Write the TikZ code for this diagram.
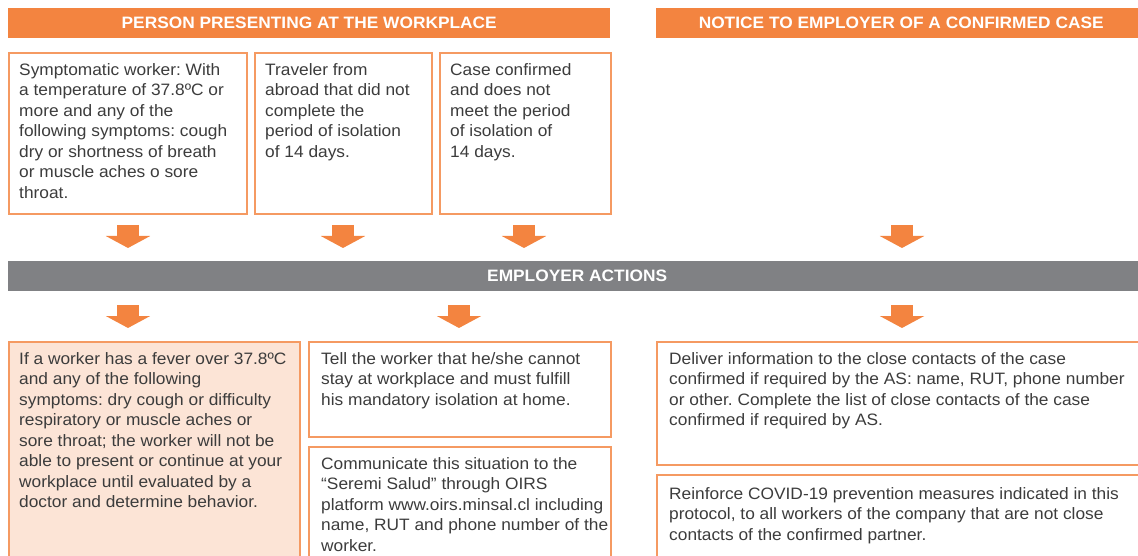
\documentclass[tikz,border=0pt]{standalone}
\usepackage{fontspec}
\setmainfont[FakeStretch=1.05]{Liberation Sans}
\frenchspacing
\usetikzlibrary{arrows.meta}
\definecolor{orng}{HTML}{F38440}
\definecolor{orngline}{HTML}{F59A62}
\definecolor{peach}{HTML}{FCE4D6}
\definecolor{barg}{HTML}{808184}
\definecolor{txtg}{HTML}{3C3C3C}

\begin{document}
\begin{tikzpicture}[x=1pt, y=1pt,
    bar/.style={draw=none, inner sep=0pt, anchor=north west, minimum height=30pt, text=white,
      font=\bfseries\fontsize{16.5}{20}\selectfont},
    box/.style={draw=orngline, line width=1.6pt, anchor=north west, inner sep=0pt},
    txt/.style={anchor=north west, inner sep=0pt, align=left, text=txtg,
      font=\fontsize{16.5}{20.5}\selectfont},
    downarrow/.style={draw=orng, line width=22pt, -{Triangle[length=12pt, width=44pt]}}]
            \useasboundingbox (0,0) rectangle (1138,-556);
            \clip (0,0) rectangle (1138,-556);

            % Headers
            \node[bar, fill=orng, minimum width=602pt] (h1) at (8,-8) {PERSON PRESENTING AT THE WORKPLACE};
            \node[bar, fill=orng, minimum width=490pt] (h2) at (656,-8) {NOTICE TO EMPLOYER OF A CONFIRMED CASE};
            \node[bar, fill=barg, minimum width=1138pt] (emp) at (8,-261) {EMPLOYER ACTIONS};

            % Upper boxes
            \node[box, minimum width=238pt, minimum height=161pt] (b1) at (8,-52) {};
            \node[box, minimum width=177pt, minimum height=161pt] (b2) at (254,-52) {};
            \node[box, minimum width=171pt, minimum height=161pt] (b3) at (439,-52) {};
            \node[txt] (t1) at ([shift={(11,-11)}]b1.north west) {Symptomatic worker: With\\ a temperature of 37.8ºC or\\ more and any of the\\ following symptoms: cough\\ dry or shortness of breath\\ or muscle aches o sore\\ throat.};
            \node[txt] (t2) at ([shift={(11,-11)}]b2.north west) {Traveler from\\ abroad that did not\\ complete the\\ period of isolation\\ of 14 days.};
            \node[txt] (t3) at ([shift={(11,-11)}]b3.north west) {Case confirmed\\ and does not\\ meet the period\\ of isolation of\\ 14 days.};

            % Lower boxes
            \node[box, fill=peach, minimum width=291pt, minimum height=240pt] (b4) at (8,-341) {};
            \node[box, minimum width=302pt, minimum height=95pt] (b5) at (308,-341) {};
            \node[box, minimum width=302pt, minimum height=160pt] (b6) at (308,-446) {};
            \node[box, minimum width=494pt, minimum height=123pt] (b7) at (656,-341) {};
            \node[box, minimum width=494pt, minimum height=160pt] (b8) at (656,-474) {};
            \node[txt] (t4) at ([shift={(11,-11)}]b4.north west) {If a worker has a fever over 37.8ºC\\ and any of the following\\ symptoms: dry cough or difficulty\\ respiratory or muscle aches or\\ sore throat; the worker will not be\\ able to present or continue at your\\ workplace until evaluated by a\\ doctor and determine behavior.};
            \node[txt] (t5) at ([shift={(13,-11)}]b5.north west) {Tell the worker that he/she cannot\\ stay at workplace and must fulfill\\ his mandatory isolation at home.};
            \node[txt] (t6) at ([shift={(13,-11)}]b6.north west) {Communicate this situation to the\\ “Seremi Salud” through OIRS\\ platform www.oirs.minsal.cl including\\ name, RUT and phone number of the\\ worker.};
            \node[txt] (t7) at ([shift={(13,-11)}]b7.north west) {Deliver information to the close contacts of the case\\ confirmed if required by the AS: name, RUT, phone number\\ or other. Complete the list of close contacts of the case\\ confirmed if required by AS.};
            \node[txt] (t8) at ([shift={(13,-13)}]b8.north west) {Reinforce COVID-19 prevention measures indicated in this\\ protocol, to all workers of the company that are not close\\ contacts of the confirmed partner.};

            % Arrows
            \coordinate (u1) at (128,-225); \coordinate (d1) at (128,-248);
            \coordinate (u2) at (343,-225); \coordinate (d2) at (343,-248);
            \coordinate (u3) at (524,-225); \coordinate (d3) at (524,-248);
            \coordinate (u4) at (902,-225); \coordinate (d4) at (902,-248);
            \coordinate (u5) at (128,-305); \coordinate (d5) at (128,-328);
            \coordinate (u6) at (459,-305); \coordinate (d6) at (459,-328);
            \coordinate (u7) at (902,-305); \coordinate (d7) at (902,-328);
            \draw[downarrow] (u1) -- (d1);
            \draw[downarrow] (u2) -- (d2);
            \draw[downarrow] (u3) -- (d3);
            \draw[downarrow] (u4) -- (d4);
            \draw[downarrow] (u5) -- (d5);
            \draw[downarrow] (u6) -- (d6);
            \draw[downarrow] (u7) -- (d7);
\end{tikzpicture}
\end{document}
